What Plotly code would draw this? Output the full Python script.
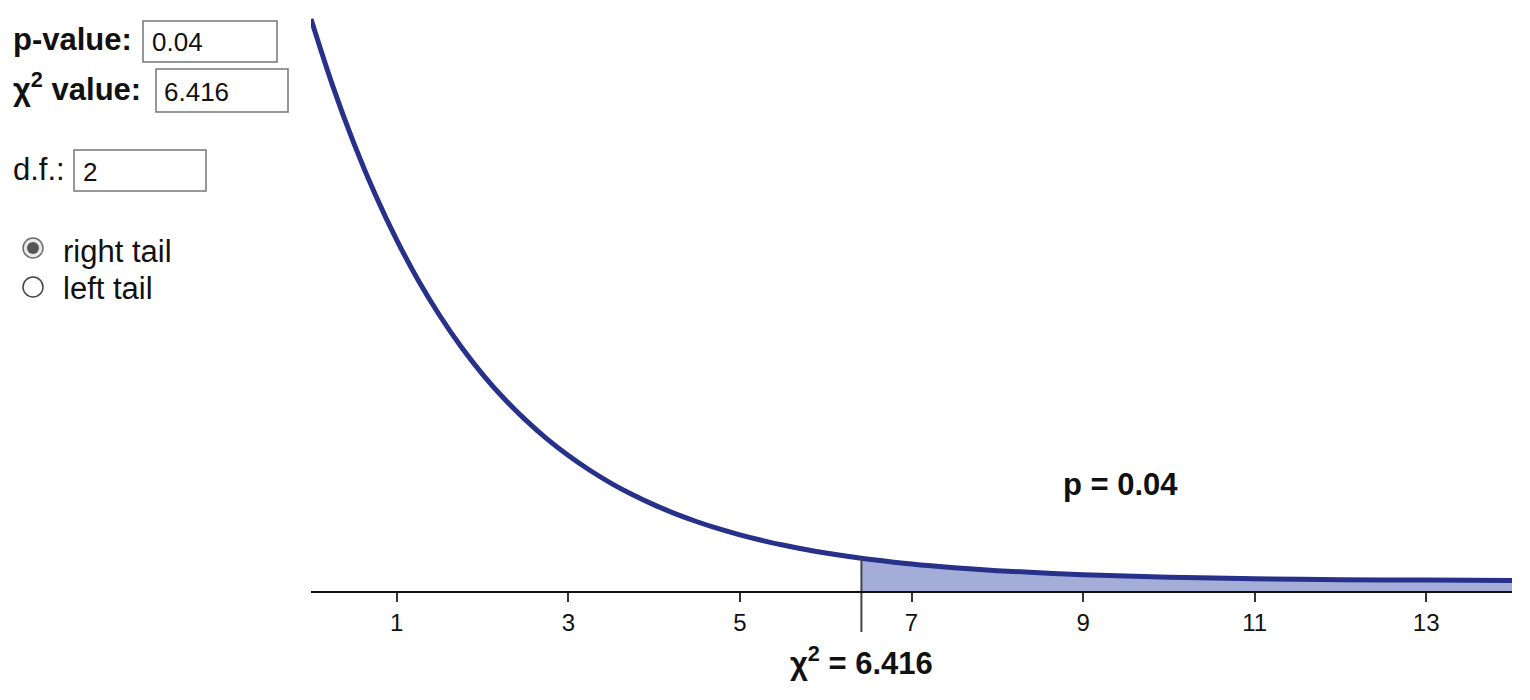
import plotly.graph_objects as go

# chi-square density (d.f. = 2)
chi_x = [0, 0.25, 0.5, 0.75, 1, 1.25, 1.5, 1.75, 2, 2.25, 2.5, 2.75, 3, 3.25, 3.5, 3.75,
         4, 4.25, 4.5, 4.75, 5, 5.25, 5.5, 5.75, 6, 6.416, 6.5, 7, 7.5, 8, 9, 10, 11, 12, 13, 14]
density = [0.5000, 0.4412, 0.3894, 0.3436, 0.3033, 0.2676, 0.2362, 0.2084, 0.1839, 0.1623,
           0.1433, 0.1264, 0.1116, 0.0985, 0.0869, 0.0767, 0.0677, 0.0597, 0.0527, 0.0465,
           0.0410, 0.0362, 0.0320, 0.0282, 0.0249, 0.0202, 0.0194, 0.0151, 0.0118, 0.0092,
           0.0056, 0.0034, 0.0020, 0.0012, 0.0008, 0.0005]
tick_vals = [1, 3, 5, 7, 9, 11, 13]
chi_value = 6.416
p_value = 0.04
dof = 2

# the page body adds an 8px margin, so the figure is a little smaller than the window
OX, OY = 8, 8
W, H = 1514, 684
FONT = "Liberation Sans, Arial, sans-serif"
NAVY = "#27318a"
FILL = "#a4acd8"

def fx(px):
    return (px - OX) / W

def fy(py):
    return 1 - (py - OY) / H

Y_MIN, Y_MAX = -0.0614, 0.508
AXIS_Y = -0.0098     # where the horizontal axis line sits in data units
DROP_Y = -0.0454     # bottom of the marker line under the axis

tail_x = [x for x in chi_x if x >= chi_value]
tail_y = [d for x, d in zip(chi_x, density) if x >= chi_value]

fig = go.Figure()
fig.add_trace(go.Scatter(
    x=tail_x + tail_x[::-1], y=[AXIS_Y] * len(tail_x) + tail_y[::-1],
    fill="toself", fillcolor=FILL, line={"width": 0}, mode="lines",
    hoverinfo="skip", showlegend=False,
))
fig.add_trace(go.Scatter(
    x=chi_x, y=density, mode="lines",
    line={"color": NAVY, "width": 5, "shape": "spline", "smoothing": 1},
    showlegend=False,
))
crit_y = density[chi_x.index(chi_value)]
fig.add_trace(go.Scatter(
    x=[chi_value, chi_value], y=[crit_y, DROP_Y], mode="lines",
    line={"color": "#444444", "width": 2}, hoverinfo="skip", showlegend=False,
))

fig.add_annotation(x=chi_value, xref="x", y=fy(683), yref="paper",
                   text="<b>χ<sup>2</sup> = %.3f</b>" % chi_value, showarrow=False,
                   font={"size": 31, "color": "#111111", "family": FONT})
fig.add_annotation(x=9.44, xref="x", y=0.086, yref="y",
                   text="<b>p = %.2f</b>" % p_value, showarrow=False,
                   font={"size": 31, "color": "#111111", "family": FONT})

# left-hand input panel
def label(text, px, baseline, size=31):
    fig.add_annotation(x=fx(px), y=fy(baseline - 0.347 * size), xref="paper", yref="paper",
                       xanchor="left", yanchor="middle", text=text, showarrow=False,
                       font={"size": size, "color": "#111111", "family": FONT})

def box(x0, y0, x1, y1):
    fig.add_shape(type="rect", xref="paper", yref="paper",
                  x0=fx(x0), x1=fx(x1), y0=fy(y1), y1=fy(y0),
                  line={"color": "#767676", "width": 1.5}, fillcolor="white")

label("<b>p-value:</b>", 11, 50)
box(143, 21, 277, 62)
label("%.2f" % p_value, 150, 51, 26)

label("<b>χ<sup>2</sup> value:</b>", 11, 98)
box(156, 69, 288, 112)
label("%.3f" % chi_value, 162, 101, 26)

label("d.f.:", 11, 180)
box(74, 150, 206, 191)
label(str(dof), 81, 181, 26)

fig.add_shape(type="circle", xref="paper", yref="paper",
              x0=fx(23), x1=fx(43), y0=fy(258), y1=fy(238),
              line={"color": "#6d6d6d", "width": 1.5}, fillcolor="#e8e8e8")
fig.add_shape(type="circle", xref="paper", yref="paper",
              x0=fx(27), x1=fx(39), y0=fy(254), y1=fy(242),
              line={"width": 0}, fillcolor="#555555")
label("right tail", 61, 262)
fig.add_shape(type="circle", xref="paper", yref="paper",
              x0=fx(23), x1=fx(43), y0=fy(297), y1=fy(277),
              line={"color": "#444444", "width": 1.5}, fillcolor="white")
label("left tail", 61, 299)

fig.update_layout(
    width=W, height=H, margin={"l": 0, "r": 0, "t": 0, "b": 0},
    paper_bgcolor="white", plot_bgcolor="white",
    font={"family": FONT},
    xaxis={"domain": [fx(311), fx(1512)], "range": [0, 14], "anchor": "free",
           "position": fy(592), "showline": True, "linecolor": "#111111", "linewidth": 2,
           "showgrid": False, "zeroline": False, "tickvals": tick_vals,
           "ticks": "outside", "ticklen": 9, "tickwidth": 2, "tickcolor": "#333333",
           "tickfont": {"size": 24, "color": "#111111", "family": FONT}},
    yaxis={"domain": [fy(650), fy(10)], "range": [Y_MIN, Y_MAX], "visible": False},
)

fig.write_html("out.html")
